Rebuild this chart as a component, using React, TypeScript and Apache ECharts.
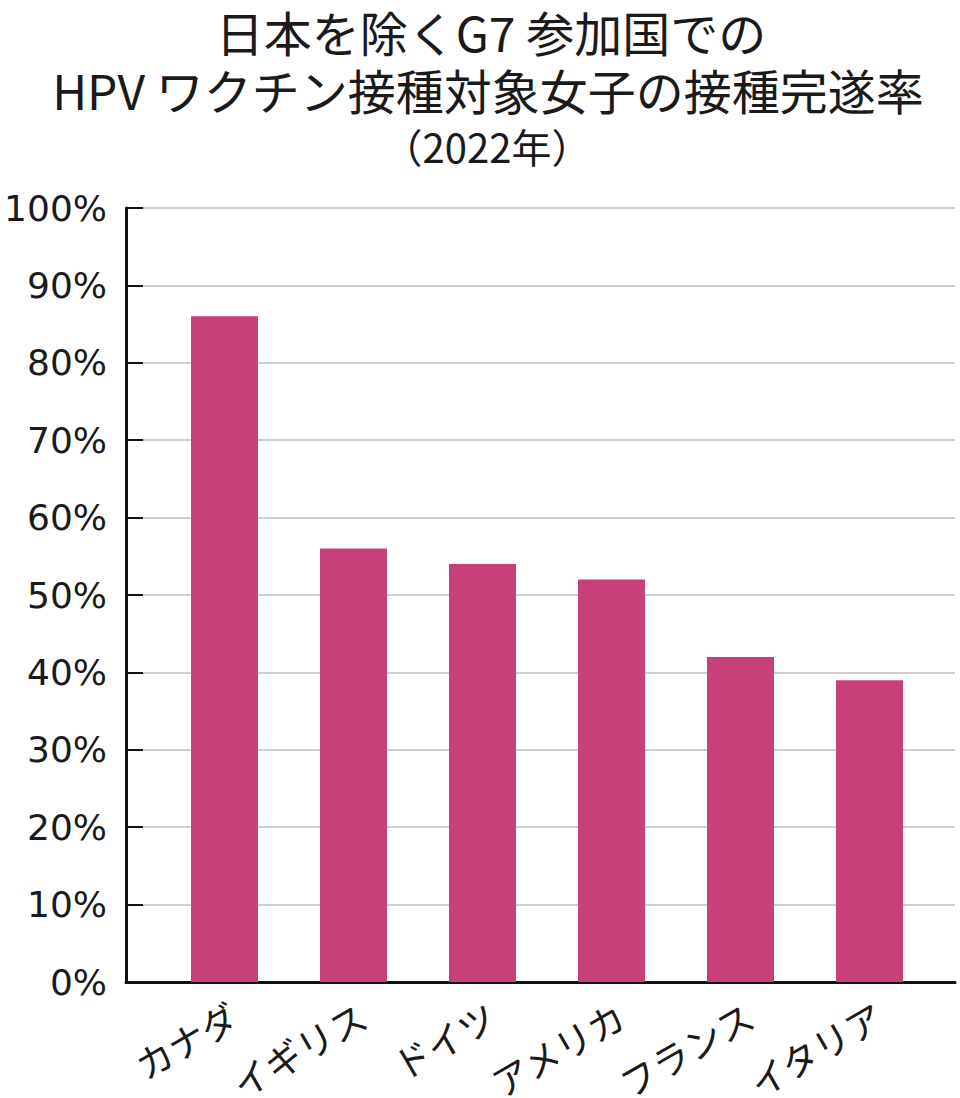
import * as echarts from "echarts";
import { useEffect, useRef } from "react";

const countries = ["カナダ", "イギリス", "ドイツ", "アメリカ", "フランス", "イタリア"];
const rates = [86, 56, 54, 52, 42, 39];
const titleLines = ["日本を除くG7 参加国での", "HPV ワクチン接種対象女子の接種完遂率"];
const subTitle = "（2022年）";

const BAR = "#c8407a";
const INK = "#1a1a1a";
const JP = "'Noto Sans CJK JP', 'Noto Sans', sans-serif";

const App: React.FC = () => {
    const node = useRef<HTMLDivElement>(null);

    useEffect(() => {
        document.body.style.margin = "0";
        const chart = echarts.init(node.current, null, { renderer: "svg" });
        const option: any = {
            animation: false,
            backgroundColor: "#fff",
            graphic: [
                {
                    type: "text",
                    x: 491,
                    y: 31,
                    style: {
                        text: titleLines[0],
                        align: "center",
                        verticalAlign: "middle",
                        fontFamily: JP,
                        fontSize: 48,
                        lineHeight: 50,
                        fill: INK,
                    },
                },
                {
                    type: "text",
                    x: 488,
                    y: 89,
                    style: {
                        text: titleLines[1],
                        align: "center",
                        verticalAlign: "middle",
                        fontFamily: JP,
                        fontSize: 48,
                        lineHeight: 50,
                        fill: INK,
                    },
                },
                {
                    type: "text",
                    x: 487,
                    y: 146,
                    style: {
                        text: subTitle,
                        align: "center",
                        verticalAlign: "middle",
                        fontFamily: JP,
                        fontSize: 40,
                        lineHeight: 40,
                        fill: INK,
                    },
                },
            ],
            grid: [
                { left: 126, right: 5, top: 208, bottom: 116, outerBoundsMode: "none" },
                { left: 160, right: 26, top: 208, bottom: 116, outerBoundsMode: "none" },
            ],
            xAxis: [
                {
                    type: "value",
                    gridIndex: 0,
                    min: 0,
                    max: 1,
                    axisLine: { show: true, onZero: false, lineStyle: { color: "#111", width: 3 } },
                    axisTick: { show: false },
                    axisLabel: { show: false },
                    splitLine: { show: false },
                },
                {
                    type: "category",
                    gridIndex: 1,
                    data: countries,
                    axisLine: { show: false },
                    axisTick: { show: false },
                    axisLabel: {
                        rotate: 30,
                        margin: 14,
                        interval: 0,
                        align: "right",
                        verticalAlign: "top",
                        fontFamily: JP,
                        fontSize: 37,
                        color: INK,
                    },
                },
            ],
            yAxis: [
                {
                    type: "value",
                    gridIndex: 0,
                    min: 0,
                    max: 100,
                    interval: 10,
                    axisLine: { show: true, lineStyle: { color: "#111", width: 3 } },
                    axisTick: { show: true, inside: true, length: 17, lineStyle: { color: "#111", width: 2 } },
                    axisLabel: {
                        formatter: "{value}%",
                        margin: 19,
                        fontFamily: "'DejaVu Sans', Verdana, sans-serif",
                        fontSize: 36,
                        color: INK,
                    },
                    splitLine: { show: true, lineStyle: { color: "#cfcfcf", width: 2 } },
                },
                {
                    type: "value",
                    gridIndex: 1,
                    min: 0,
                    max: 100,
                    show: false,
                    splitLine: { show: false },
                },
            ],
            series: [
                {
                    type: "bar",
                    xAxisIndex: 1,
                    yAxisIndex: 1,
                    data: rates,
                    barWidth: 67,
                    itemStyle: { color: BAR },
                    z: 3,
                },
            ],
        };
        chart.setOption(option);
        return () => {
            chart.dispose();
        };
    }, []);

    return <div style={{ width: 960, height: 1098 }} ref={node}></div>;
};

export default App;
